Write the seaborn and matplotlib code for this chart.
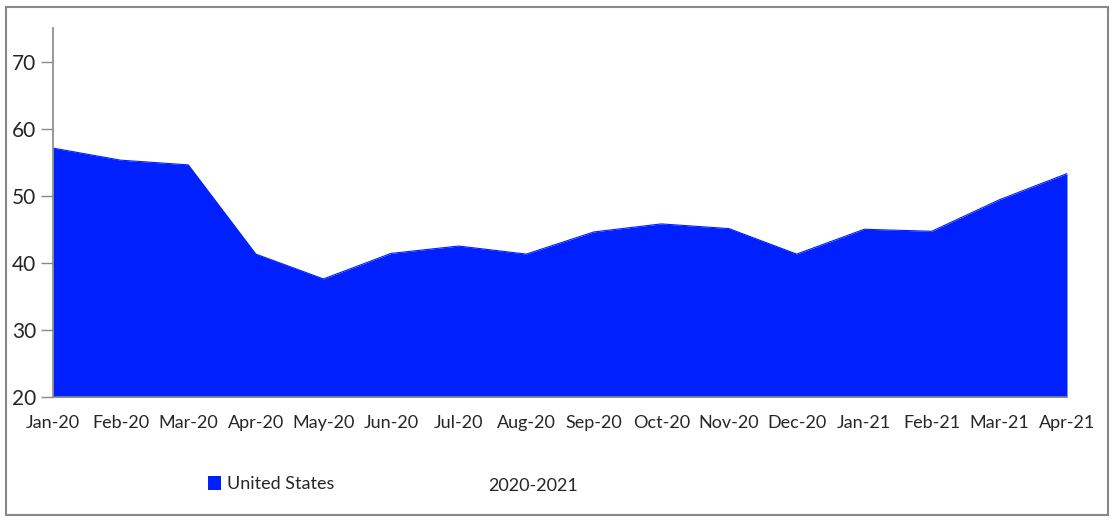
import pandas as pd
import seaborn as sns
import matplotlib.pyplot as plt
from matplotlib.patches import Patch, Rectangle

months = ["Jan-20", "Feb-20", "Mar-20", "Apr-20", "May-20", "Jun-20", "Jul-20", "Aug-20",
          "Sep-20", "Oct-20", "Nov-20", "Dec-20", "Jan-21", "Feb-21", "Mar-21", "Apr-21"]
us_values = [57.1, 55.3, 54.6, 41.3, 37.6, 41.4, 42.5, 41.3,
             44.6, 45.8, 45.1, 41.3, 45.0, 44.7, 49.4, 53.3]

sns.set_style("white")
plt.rcParams["font.family"] = ["Lato", "DejaVu Sans"]

df = pd.DataFrame({"month": months, "value": us_values})
df["pos"] = range(len(df))

fig = plt.figure(figsize=(11.14, 5.23), dpi=100)
ax = fig.add_axes([0.0476, 0.2409, 0.9102, 0.7056])
blue = "#0020FF"
sns.lineplot(data=df, x="pos", y="value", color=blue, linewidth=0.8, ax=ax)
ax.fill_between(df["pos"], df["value"], 20, color=blue, linewidth=0)

ax.set_xlim(0, len(df) - 1)
ax.set_ylim(20, 75)
ax.set_yticks([20, 30, 40, 50, 60, 70])
ax.set_xticks(df["pos"])
ax.set_xticklabels(df["month"])
ax.tick_params(axis="y", labelsize=15, length=9, width=1, color="#888888", pad=3, left=True)
ax.tick_params(axis="x", labelsize=13, length=0, pad=13)
ax.set_xlabel("2020-2021", fontsize=13)
ax.xaxis.set_label_coords(0.473, -0.22)
ax.set_ylabel("")

for s in ["top", "right"]:
    ax.spines[s].set_visible(False)
for s in ["left", "bottom"]:
    ax.spines[s].set_color("#888888")
    ax.spines[s].set_linewidth(1.2)

handle = Patch(facecolor=blue, edgecolor="none")
fig.legend([handle], ["United States"], loc="center left", bbox_to_anchor=(0.172, 0.074),
           frameon=False, fontsize=13, handlelength=0.75, handleheight=0.75, handletextpad=0.3)

fig.patches.append(Rectangle((0.005, 0.015), 0.99, 0.972, transform=fig.transFigure,
                             fill=False, edgecolor="#888888", linewidth=1.5))

fig.savefig("out.png", dpi=100)
